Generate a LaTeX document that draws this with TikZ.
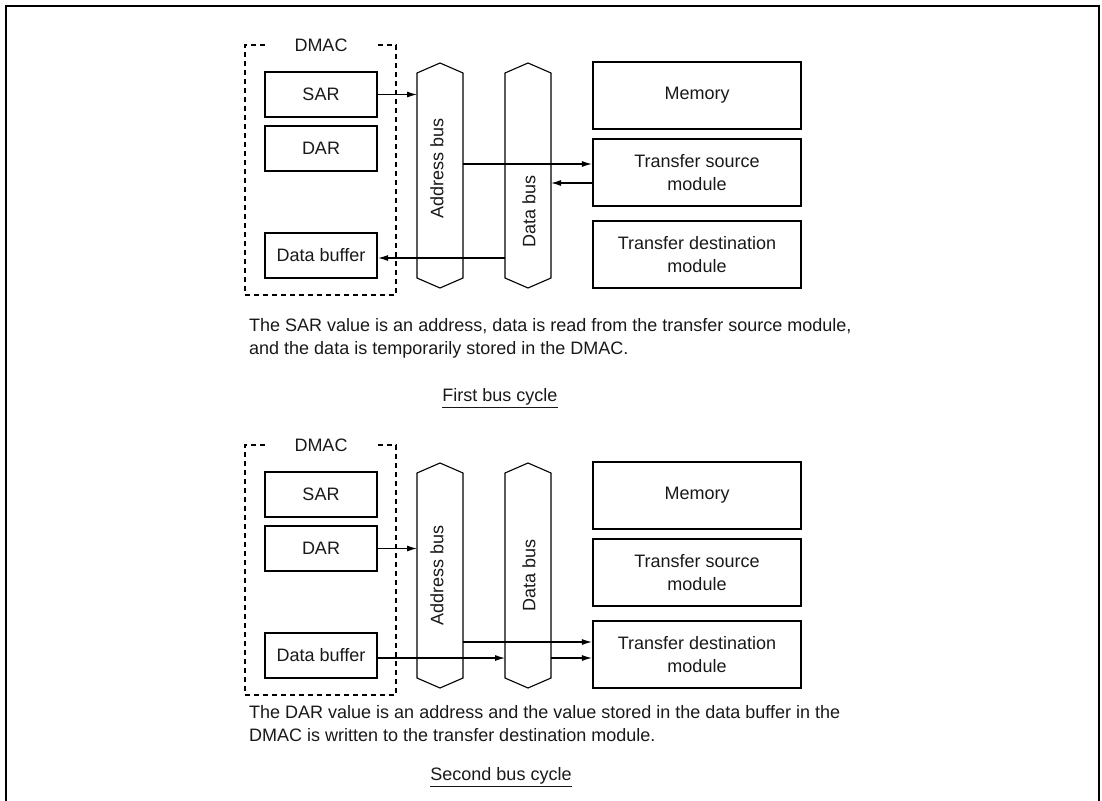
\documentclass[tikz,border=0pt]{standalone}
\usepackage{fontspec}
\setmainfont{Liberation Sans}
\usetikzlibrary{arrows.meta,calc}

\tikzset{
  txt/.style={font=\fontsize{18pt}{23pt}\selectfont,text=black!90},
  reg/.style={txt,draw,line width=2.2pt,minimum width=112pt,minimum height=45pt,inner sep=0pt},
  modbox/.style={txt,draw,line width=2.2pt,minimum width=208pt,minimum height=67pt,align=center,inner sep=0pt},
  bus/.style={minimum width=46pt,minimum height=205pt,inner sep=0pt,outer sep=0pt},
  busline/.style={line width=1.1pt},
  dmacline/.style={line width=1.1pt,dash pattern=on 5pt off 4pt},
  sig/.style={line width=1.1pt,-{Latex[length=10pt,width=6pt]}},
  note/.style={txt,align=left,anchor=west,inner sep=0pt},
}

\begin{document}
\begin{tikzpicture}[x=1pt,y=-1pt]
\useasboundingbox (0,0) rectangle (1102,800);

% -----------------------
% Cadre
% -----------------------
\draw[line width=2.4pt] (6,806) -- (6,6) -- (1099,6) -- (1099,806);

% =======================
% Premier cycle
% =======================
\begin{scope}
% -----------------------
% DMAC
% -----------------------
\node[txt,minimum width=112pt,inner sep=0pt] (dmac) at (321,45) {DMAC};
\draw[dmacline] (dmac.west) -- (245,45) -- (245,295) -- (396,295) -- (396,45) -- (dmac.east);
\node[reg] (sar) at (321,94.5) {SAR};
\node[reg] (dar) at (321,148.5) {DAR};
\node[reg] (buf) at (321,255.5) {Data buffer};

% -----------------------
% Bus
% -----------------------
\node[bus] (abus) at (440,175.5) {};
\node[bus] (dbus) at (528,175.5) {};
\draw[busline] (abus.south west) -- (abus.north west) -- ($(abus.north)+(0,-10)$) -- (abus.north east)
  -- (abus.south east) -- ($(abus.south)+(0,10)$) -- cycle;
\draw[busline] (dbus.south west) -- (dbus.north west) -- ($(dbus.north)+(0,-10)$) -- (dbus.north east)
  -- (dbus.south east) -- ($(dbus.south)+(0,10)$) -- cycle;
\node[txt,rotate=90] (alabel) at (437,168) {Address bus};
\node[txt,rotate=90] (dlabel) at (529,211) {Data bus};

% -----------------------
% Modules
% -----------------------
\node[modbox] (mem) at (697,95.5) {Memory};
\node[modbox] (src) at (697,172.5) {Transfer source\\module};
\node[modbox] (dst) at (697,254.5) {Transfer destination\\module};

% -----------------------
% Transferts
% -----------------------
\draw[sig] (sar.east) -- (sar.east -| abus.west);
\draw[sig] (abus.east |- 0,164) -- (src.west |- 0,164);
\draw[sig] (src.west |- 0,183) -- (dbus.east |- 0,183);
\draw[sig] (dbus.west |- 0,258) -- (buf.east |- 0,258);

% -----------------------
% Texte
% -----------------------
\node[note] (desc) at (249,338.5) {The SAR value is an address, data is read from the transfer source module,\\and the data is temporarily stored in the DMAC.};
\node[txt] (cap) at (500,398) {\underline{First bus cycle}};
\end{scope}

% =======================
% Second cycle
% =======================
\begin{scope}[shift={(0,400)}]
% -----------------------
% DMAC
% -----------------------
\node[txt,minimum width=112pt,inner sep=0pt] (dmac) at (321,45) {DMAC};
\draw[dmacline] (dmac.west) -- (245,45) -- (245,295) -- (396,295) -- (396,45) -- (dmac.east);
\node[reg] (sar) at (321,94.5) {SAR};
\node[reg] (dar) at (321,148.5) {DAR};
\node[reg] (buf) at (321,255.5) {Data buffer};

% -----------------------
% Bus
% -----------------------
\node[bus] (abus) at (440,175.5) {};
\node[bus] (dbus) at (528,175.5) {};
\draw[busline] (abus.south west) -- (abus.north west) -- ($(abus.north)+(0,-10)$) -- (abus.north east)
  -- (abus.south east) -- ($(abus.south)+(0,10)$) -- cycle;
\draw[busline] (dbus.south west) -- (dbus.north west) -- ($(dbus.north)+(0,-10)$) -- (dbus.north east)
  -- (dbus.south east) -- ($(dbus.south)+(0,10)$) -- cycle;
\node[txt,rotate=90] (alabel) at (437,175) {Address bus};
\node[txt,rotate=90] (dlabel) at (529,175) {Data bus};

% -----------------------
% Modules
% -----------------------
\node[modbox] (mem) at (697,95.5) {Memory};
\node[modbox] (src) at (697,172.5) {Transfer source\\module};
\node[modbox] (dst) at (697,254.5) {Transfer destination\\module};

% -----------------------
% Transferts
% -----------------------
\draw[sig] (dar.east) -- (dar.east -| abus.west);
\draw[sig] (abus.east |- 0,242) -- (dst.west |- 0,242);
\draw[sig] (buf.east |- 0,258) -- (dbus.west |- 0,258);
\draw[sig] (dbus.east |- 0,258) -- (dst.west |- 0,258);

% -----------------------
% Texte
% -----------------------
\node[note] (desc) at (249,324) {The DAR value is an address and the value stored in the data buffer in the\\DMAC is written to the transfer destination module.};
\node[txt] (cap) at (501,377) {\underline{Second bus cycle}};
\end{scope}

\end{tikzpicture}
\end{document}
